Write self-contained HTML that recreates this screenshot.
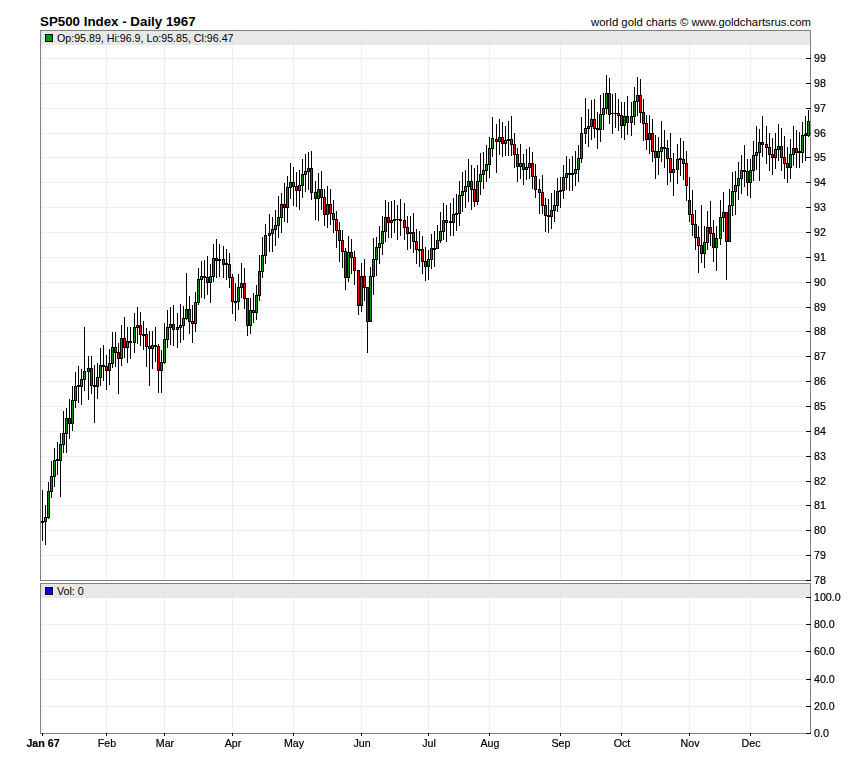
<!DOCTYPE html><html><head><meta charset="utf-8"><title>SP500 Index - Daily 1967</title><style>
html,body{margin:0;padding:0;background:#fff}
body{width:850px;height:769px;position:relative;overflow:hidden;font-family:"Liberation Sans",sans-serif;color:#000}
.t{position:absolute;white-space:nowrap;font-size:10.667px;line-height:12px}
.yl{left:814px;will-change:transform;-webkit-text-stroke:0.2px #000}
.xl{width:60px;text-align:center;top:737px;will-change:transform;-webkit-text-stroke:0.2px #000}
</style></head><body>
<svg width="850" height="769" viewBox="0 0 850 769" shape-rendering="crispEdges" style="position:absolute;left:0;top:0">
<rect x="41" y="31" width="769" height="14" fill="#e8e8e8"/>
<rect x="41" y="584" width="769" height="14" fill="#e8e8e8"/>
<rect x="41" y="555" width="764" height="1" fill="#e5f0f9"/>
<rect x="41" y="530" width="764" height="1" fill="#e5f0f9"/>
<rect x="41" y="505" width="764" height="1" fill="#e5f0f9"/>
<rect x="41" y="481" width="764" height="1" fill="#e5f0f9"/>
<rect x="41" y="456" width="764" height="1" fill="#e5f0f9"/>
<rect x="41" y="431" width="764" height="1" fill="#e5f0f9"/>
<rect x="41" y="406" width="764" height="1" fill="#e5f0f9"/>
<rect x="41" y="381" width="764" height="1" fill="#e5f0f9"/>
<rect x="41" y="356" width="764" height="1" fill="#e5f0f9"/>
<rect x="41" y="331" width="764" height="1" fill="#e5f0f9"/>
<rect x="41" y="307" width="764" height="1" fill="#e5f0f9"/>
<rect x="41" y="282" width="764" height="1" fill="#e5f0f9"/>
<rect x="41" y="257" width="764" height="1" fill="#e5f0f9"/>
<rect x="41" y="232" width="764" height="1" fill="#e5f0f9"/>
<rect x="41" y="207" width="764" height="1" fill="#e5f0f9"/>
<rect x="41" y="182" width="764" height="1" fill="#e5f0f9"/>
<rect x="41" y="157" width="764" height="1" fill="#e5f0f9"/>
<rect x="41" y="133" width="764" height="1" fill="#e5f0f9"/>
<rect x="41" y="108" width="764" height="1" fill="#e5f0f9"/>
<rect x="41" y="83" width="764" height="1" fill="#e5f0f9"/>
<rect x="41" y="58" width="764" height="1" fill="#e5f0f9"/>
<rect x="41" y="706" width="764" height="1" fill="#e5f0f9"/>
<rect x="41" y="679" width="764" height="1" fill="#e5f0f9"/>
<rect x="41" y="651" width="764" height="1" fill="#e5f0f9"/>
<rect x="41" y="624" width="764" height="1" fill="#e5f0f9"/>
<rect x="41" y="597" width="764" height="1" fill="#e5f0f9"/>
<rect x="42" y="31" width="1" height="549" fill="#e5f0f9"/>
<rect x="42" y="584" width="1" height="149" fill="#e5f0f9"/>
<rect x="106" y="31" width="1" height="549" fill="#e5f0f9"/>
<rect x="106" y="584" width="1" height="149" fill="#e5f0f9"/>
<rect x="164" y="31" width="1" height="549" fill="#e5f0f9"/>
<rect x="164" y="584" width="1" height="149" fill="#e5f0f9"/>
<rect x="232" y="31" width="1" height="549" fill="#e5f0f9"/>
<rect x="232" y="584" width="1" height="149" fill="#e5f0f9"/>
<rect x="293" y="31" width="1" height="549" fill="#e5f0f9"/>
<rect x="293" y="584" width="1" height="149" fill="#e5f0f9"/>
<rect x="361" y="31" width="1" height="549" fill="#e5f0f9"/>
<rect x="361" y="584" width="1" height="149" fill="#e5f0f9"/>
<rect x="428" y="31" width="1" height="549" fill="#e5f0f9"/>
<rect x="428" y="584" width="1" height="149" fill="#e5f0f9"/>
<rect x="489" y="31" width="1" height="549" fill="#e5f0f9"/>
<rect x="489" y="584" width="1" height="149" fill="#e5f0f9"/>
<rect x="560" y="31" width="1" height="549" fill="#e5f0f9"/>
<rect x="560" y="584" width="1" height="149" fill="#e5f0f9"/>
<rect x="621" y="31" width="1" height="549" fill="#e5f0f9"/>
<rect x="621" y="584" width="1" height="149" fill="#e5f0f9"/>
<rect x="689" y="31" width="1" height="549" fill="#e5f0f9"/>
<rect x="689" y="584" width="1" height="149" fill="#e5f0f9"/>
<rect x="750" y="31" width="1" height="549" fill="#e5f0f9"/>
<rect x="750" y="584" width="1" height="149" fill="#e5f0f9"/>
<rect x="42" y="31" width="1" height="14" fill="#e0e7ee"/>
<rect x="42" y="584" width="1" height="14" fill="#e0e7ee"/>
<rect x="106" y="31" width="1" height="14" fill="#e0e7ee"/>
<rect x="106" y="584" width="1" height="14" fill="#e0e7ee"/>
<rect x="164" y="31" width="1" height="14" fill="#e0e7ee"/>
<rect x="164" y="584" width="1" height="14" fill="#e0e7ee"/>
<rect x="232" y="31" width="1" height="14" fill="#e0e7ee"/>
<rect x="232" y="584" width="1" height="14" fill="#e0e7ee"/>
<rect x="293" y="31" width="1" height="14" fill="#e0e7ee"/>
<rect x="293" y="584" width="1" height="14" fill="#e0e7ee"/>
<rect x="361" y="31" width="1" height="14" fill="#e0e7ee"/>
<rect x="361" y="584" width="1" height="14" fill="#e0e7ee"/>
<rect x="428" y="31" width="1" height="14" fill="#e0e7ee"/>
<rect x="428" y="584" width="1" height="14" fill="#e0e7ee"/>
<rect x="489" y="31" width="1" height="14" fill="#e0e7ee"/>
<rect x="489" y="584" width="1" height="14" fill="#e0e7ee"/>
<rect x="560" y="31" width="1" height="14" fill="#e0e7ee"/>
<rect x="560" y="584" width="1" height="14" fill="#e0e7ee"/>
<rect x="621" y="31" width="1" height="14" fill="#e0e7ee"/>
<rect x="621" y="584" width="1" height="14" fill="#e0e7ee"/>
<rect x="689" y="31" width="1" height="14" fill="#e0e7ee"/>
<rect x="689" y="584" width="1" height="14" fill="#e0e7ee"/>
<rect x="750" y="31" width="1" height="14" fill="#e0e7ee"/>
<rect x="750" y="584" width="1" height="14" fill="#e0e7ee"/>
<rect x="41" y="597" width="764" height="1" fill="#e0e7ee"/>
<rect x="40" y="30" width="771" height="1" fill="#808080"/>
<rect x="40" y="580" width="771" height="1" fill="#808080"/>
<rect x="40" y="30" width="1" height="551" fill="#808080"/>
<rect x="810" y="30" width="1" height="551" fill="#808080"/>
<rect x="40" y="583" width="771" height="1" fill="#808080"/>
<rect x="40" y="733" width="771" height="1" fill="#808080"/>
<rect x="40" y="583" width="1" height="151" fill="#808080"/>
<rect x="810" y="583" width="1" height="151" fill="#808080"/>
<rect x="806" y="580" width="5" height="1" fill="#000"/>
<rect x="806" y="555" width="5" height="1" fill="#000"/>
<rect x="806" y="530" width="5" height="1" fill="#000"/>
<rect x="806" y="505" width="5" height="1" fill="#000"/>
<rect x="806" y="481" width="5" height="1" fill="#000"/>
<rect x="806" y="456" width="5" height="1" fill="#000"/>
<rect x="806" y="431" width="5" height="1" fill="#000"/>
<rect x="806" y="406" width="5" height="1" fill="#000"/>
<rect x="806" y="381" width="5" height="1" fill="#000"/>
<rect x="806" y="356" width="5" height="1" fill="#000"/>
<rect x="806" y="331" width="5" height="1" fill="#000"/>
<rect x="806" y="307" width="5" height="1" fill="#000"/>
<rect x="806" y="282" width="5" height="1" fill="#000"/>
<rect x="806" y="257" width="5" height="1" fill="#000"/>
<rect x="806" y="232" width="5" height="1" fill="#000"/>
<rect x="806" y="207" width="5" height="1" fill="#000"/>
<rect x="806" y="182" width="5" height="1" fill="#000"/>
<rect x="806" y="157" width="5" height="1" fill="#000"/>
<rect x="806" y="133" width="5" height="1" fill="#000"/>
<rect x="806" y="108" width="5" height="1" fill="#000"/>
<rect x="806" y="83" width="5" height="1" fill="#000"/>
<rect x="806" y="58" width="5" height="1" fill="#000"/>
<rect x="806" y="733" width="5" height="1" fill="#000"/>
<rect x="806" y="706" width="5" height="1" fill="#000"/>
<rect x="806" y="679" width="5" height="1" fill="#000"/>
<rect x="806" y="651" width="5" height="1" fill="#000"/>
<rect x="806" y="624" width="5" height="1" fill="#000"/>
<rect x="806" y="597" width="5" height="1" fill="#000"/>
<rect x="42" y="733" width="1" height="3" fill="#000"/>
<rect x="106" y="733" width="1" height="3" fill="#000"/>
<rect x="164" y="733" width="1" height="3" fill="#000"/>
<rect x="232" y="733" width="1" height="3" fill="#000"/>
<rect x="293" y="733" width="1" height="3" fill="#000"/>
<rect x="361" y="733" width="1" height="3" fill="#000"/>
<rect x="428" y="733" width="1" height="3" fill="#000"/>
<rect x="489" y="733" width="1" height="3" fill="#000"/>
<rect x="560" y="733" width="1" height="3" fill="#000"/>
<rect x="621" y="733" width="1" height="3" fill="#000"/>
<rect x="689" y="733" width="1" height="3" fill="#000"/>
<rect x="750" y="733" width="1" height="3" fill="#000"/>
<rect x="45" y="34" width="8" height="8" fill="#000"/><rect x="46" y="35" width="6" height="6" fill="#009900"/>
<rect x="45" y="587" width="8" height="8" fill="#000"/><rect x="46" y="588" width="6" height="6" fill="#0000ee"/>
<rect x="42" y="490" width="1" height="51" fill="#000"/>
<rect x="41" y="521" width="3" height="2" fill="#000"/>
<rect x="45" y="505" width="1" height="40" fill="#000"/>
<rect x="44" y="517" width="3" height="5" fill="#000"/>
<rect x="45" y="518" width="1" height="3" fill="#009900"/>
<rect x="48" y="482" width="1" height="37" fill="#000"/>
<rect x="47" y="491" width="3" height="27" fill="#000"/>
<rect x="48" y="492" width="1" height="25" fill="#009900"/>
<rect x="51" y="461" width="1" height="37" fill="#000"/>
<rect x="50" y="476" width="3" height="16" fill="#000"/>
<rect x="51" y="477" width="1" height="14" fill="#009900"/>
<rect x="54" y="448" width="1" height="39" fill="#000"/>
<rect x="53" y="460" width="3" height="17" fill="#000"/>
<rect x="54" y="461" width="1" height="15" fill="#009900"/>
<rect x="57" y="442" width="1" height="33" fill="#000"/>
<rect x="56" y="459" width="3" height="2" fill="#000"/>
<rect x="60" y="433" width="1" height="64" fill="#000"/>
<rect x="59" y="444" width="3" height="17" fill="#000"/>
<rect x="60" y="445" width="1" height="15" fill="#009900"/>
<rect x="63" y="411" width="1" height="42" fill="#000"/>
<rect x="62" y="433" width="3" height="12" fill="#000"/>
<rect x="63" y="434" width="1" height="10" fill="#009900"/>
<rect x="66" y="408" width="1" height="45" fill="#000"/>
<rect x="65" y="418" width="3" height="16" fill="#000"/>
<rect x="66" y="419" width="1" height="14" fill="#009900"/>
<rect x="69" y="399" width="1" height="40" fill="#000"/>
<rect x="68" y="418" width="3" height="6" fill="#000"/>
<rect x="69" y="419" width="1" height="4" fill="#ff0000"/>
<rect x="72" y="386" width="1" height="45" fill="#000"/>
<rect x="71" y="400" width="3" height="24" fill="#000"/>
<rect x="72" y="401" width="1" height="22" fill="#009900"/>
<rect x="75" y="372" width="1" height="36" fill="#000"/>
<rect x="74" y="386" width="3" height="15" fill="#000"/>
<rect x="75" y="387" width="1" height="13" fill="#009900"/>
<rect x="78" y="366" width="1" height="37" fill="#000"/>
<rect x="77" y="385" width="3" height="2" fill="#000"/>
<rect x="81" y="369" width="1" height="36" fill="#000"/>
<rect x="80" y="379" width="3" height="8" fill="#000"/>
<rect x="81" y="380" width="1" height="6" fill="#009900"/>
<rect x="84" y="327" width="1" height="64" fill="#000"/>
<rect x="83" y="371" width="3" height="9" fill="#000"/>
<rect x="84" y="372" width="1" height="7" fill="#009900"/>
<rect x="88" y="356" width="1" height="44" fill="#000"/>
<rect x="87" y="368" width="3" height="4" fill="#000"/>
<rect x="88" y="369" width="1" height="2" fill="#009900"/>
<rect x="91" y="356" width="1" height="38" fill="#000"/>
<rect x="90" y="368" width="3" height="18" fill="#000"/>
<rect x="91" y="369" width="1" height="16" fill="#ff0000"/>
<rect x="94" y="365" width="1" height="58" fill="#000"/>
<rect x="93" y="385" width="3" height="2" fill="#000"/>
<rect x="97" y="363" width="1" height="36" fill="#000"/>
<rect x="96" y="377" width="3" height="10" fill="#000"/>
<rect x="97" y="378" width="1" height="8" fill="#009900"/>
<rect x="100" y="348" width="1" height="38" fill="#000"/>
<rect x="99" y="365" width="3" height="13" fill="#000"/>
<rect x="100" y="366" width="1" height="11" fill="#009900"/>
<rect x="103" y="345" width="1" height="36" fill="#000"/>
<rect x="102" y="365" width="3" height="2" fill="#000"/>
<rect x="106" y="355" width="1" height="35" fill="#000"/>
<rect x="105" y="366" width="3" height="5" fill="#000"/>
<rect x="106" y="367" width="1" height="3" fill="#ff0000"/>
<rect x="109" y="349" width="1" height="36" fill="#000"/>
<rect x="108" y="363" width="3" height="8" fill="#000"/>
<rect x="109" y="364" width="1" height="6" fill="#009900"/>
<rect x="112" y="332" width="1" height="36" fill="#000"/>
<rect x="111" y="347" width="3" height="17" fill="#000"/>
<rect x="112" y="348" width="1" height="15" fill="#009900"/>
<rect x="115" y="332" width="1" height="35" fill="#000"/>
<rect x="114" y="347" width="3" height="6" fill="#000"/>
<rect x="115" y="348" width="1" height="4" fill="#ff0000"/>
<rect x="118" y="343" width="1" height="51" fill="#000"/>
<rect x="117" y="352" width="3" height="7" fill="#000"/>
<rect x="118" y="353" width="1" height="5" fill="#ff0000"/>
<rect x="121" y="325" width="1" height="41" fill="#000"/>
<rect x="120" y="338" width="3" height="21" fill="#000"/>
<rect x="121" y="339" width="1" height="19" fill="#009900"/>
<rect x="124" y="317" width="1" height="41" fill="#000"/>
<rect x="123" y="338" width="3" height="10" fill="#000"/>
<rect x="124" y="339" width="1" height="8" fill="#ff0000"/>
<rect x="127" y="327" width="1" height="36" fill="#000"/>
<rect x="126" y="341" width="3" height="7" fill="#000"/>
<rect x="127" y="342" width="1" height="5" fill="#009900"/>
<rect x="130" y="327" width="1" height="32" fill="#000"/>
<rect x="129" y="341" width="3" height="2" fill="#000"/>
<rect x="134" y="313" width="1" height="40" fill="#000"/>
<rect x="133" y="327" width="3" height="16" fill="#000"/>
<rect x="134" y="328" width="1" height="14" fill="#009900"/>
<rect x="137" y="307" width="1" height="37" fill="#000"/>
<rect x="136" y="325" width="3" height="3" fill="#000"/>
<rect x="137" y="326" width="1" height="1" fill="#009900"/>
<rect x="140" y="312" width="1" height="34" fill="#000"/>
<rect x="139" y="325" width="3" height="10" fill="#000"/>
<rect x="140" y="326" width="1" height="8" fill="#ff0000"/>
<rect x="143" y="321" width="1" height="29" fill="#000"/>
<rect x="142" y="334" width="3" height="2" fill="#000"/>
<rect x="146" y="328" width="1" height="39" fill="#000"/>
<rect x="145" y="334" width="3" height="13" fill="#000"/>
<rect x="146" y="335" width="1" height="11" fill="#ff0000"/>
<rect x="149" y="331" width="1" height="55" fill="#000"/>
<rect x="148" y="346" width="3" height="3" fill="#000"/>
<rect x="149" y="347" width="1" height="1" fill="#ff0000"/>
<rect x="152" y="331" width="1" height="38" fill="#000"/>
<rect x="151" y="345" width="3" height="4" fill="#000"/>
<rect x="152" y="346" width="1" height="2" fill="#009900"/>
<rect x="155" y="327" width="1" height="35" fill="#000"/>
<rect x="154" y="345" width="3" height="2" fill="#000"/>
<rect x="158" y="344" width="1" height="49" fill="#000"/>
<rect x="157" y="346" width="3" height="25" fill="#000"/>
<rect x="158" y="347" width="1" height="23" fill="#ff0000"/>
<rect x="161" y="350" width="1" height="43" fill="#000"/>
<rect x="160" y="362" width="3" height="9" fill="#000"/>
<rect x="161" y="363" width="1" height="7" fill="#009900"/>
<rect x="164" y="323" width="1" height="41" fill="#000"/>
<rect x="163" y="339" width="3" height="24" fill="#000"/>
<rect x="164" y="340" width="1" height="22" fill="#009900"/>
<rect x="167" y="310" width="1" height="38" fill="#000"/>
<rect x="166" y="327" width="3" height="13" fill="#000"/>
<rect x="167" y="328" width="1" height="11" fill="#009900"/>
<rect x="170" y="307" width="1" height="38" fill="#000"/>
<rect x="169" y="324" width="3" height="4" fill="#000"/>
<rect x="170" y="325" width="1" height="2" fill="#009900"/>
<rect x="173" y="305" width="1" height="41" fill="#000"/>
<rect x="172" y="324" width="3" height="6" fill="#000"/>
<rect x="173" y="325" width="1" height="4" fill="#ff0000"/>
<rect x="177" y="313" width="1" height="35" fill="#000"/>
<rect x="176" y="327" width="3" height="3" fill="#000"/>
<rect x="177" y="328" width="1" height="1" fill="#009900"/>
<rect x="180" y="304" width="1" height="39" fill="#000"/>
<rect x="179" y="325" width="3" height="3" fill="#000"/>
<rect x="180" y="326" width="1" height="1" fill="#009900"/>
<rect x="183" y="306" width="1" height="34" fill="#000"/>
<rect x="182" y="318" width="3" height="8" fill="#000"/>
<rect x="183" y="319" width="1" height="6" fill="#009900"/>
<rect x="186" y="273" width="1" height="47" fill="#000"/>
<rect x="185" y="309" width="3" height="10" fill="#000"/>
<rect x="186" y="310" width="1" height="8" fill="#009900"/>
<rect x="189" y="296" width="1" height="38" fill="#000"/>
<rect x="188" y="309" width="3" height="13" fill="#000"/>
<rect x="189" y="310" width="1" height="11" fill="#ff0000"/>
<rect x="192" y="305" width="1" height="38" fill="#000"/>
<rect x="191" y="321" width="3" height="3" fill="#000"/>
<rect x="192" y="322" width="1" height="1" fill="#ff0000"/>
<rect x="195" y="292" width="1" height="40" fill="#000"/>
<rect x="194" y="302" width="3" height="22" fill="#000"/>
<rect x="195" y="303" width="1" height="20" fill="#009900"/>
<rect x="198" y="268" width="1" height="37" fill="#000"/>
<rect x="197" y="279" width="3" height="24" fill="#000"/>
<rect x="198" y="280" width="1" height="22" fill="#009900"/>
<rect x="201" y="261" width="1" height="37" fill="#000"/>
<rect x="200" y="276" width="3" height="4" fill="#000"/>
<rect x="201" y="277" width="1" height="2" fill="#009900"/>
<rect x="204" y="260" width="1" height="39" fill="#000"/>
<rect x="203" y="276" width="3" height="2" fill="#000"/>
<rect x="207" y="256" width="1" height="39" fill="#000"/>
<rect x="206" y="277" width="3" height="6" fill="#000"/>
<rect x="207" y="278" width="1" height="4" fill="#ff0000"/>
<rect x="210" y="264" width="1" height="39" fill="#000"/>
<rect x="209" y="276" width="3" height="7" fill="#000"/>
<rect x="210" y="277" width="1" height="5" fill="#009900"/>
<rect x="213" y="244" width="1" height="38" fill="#000"/>
<rect x="212" y="258" width="3" height="19" fill="#000"/>
<rect x="213" y="259" width="1" height="17" fill="#009900"/>
<rect x="216" y="239" width="1" height="39" fill="#000"/>
<rect x="215" y="258" width="3" height="3" fill="#000"/>
<rect x="216" y="259" width="1" height="1" fill="#ff0000"/>
<rect x="219" y="244" width="1" height="33" fill="#000"/>
<rect x="218" y="259" width="3" height="2" fill="#000"/>
<rect x="223" y="246" width="1" height="32" fill="#000"/>
<rect x="222" y="259" width="3" height="6" fill="#000"/>
<rect x="223" y="260" width="1" height="4" fill="#ff0000"/>
<rect x="226" y="249" width="1" height="31" fill="#000"/>
<rect x="225" y="263" width="3" height="2" fill="#000"/>
<rect x="229" y="253" width="1" height="35" fill="#000"/>
<rect x="228" y="264" width="3" height="14" fill="#000"/>
<rect x="229" y="265" width="1" height="12" fill="#ff0000"/>
<rect x="232" y="274" width="1" height="40" fill="#000"/>
<rect x="231" y="277" width="3" height="25" fill="#000"/>
<rect x="232" y="278" width="1" height="23" fill="#ff0000"/>
<rect x="235" y="283" width="1" height="38" fill="#000"/>
<rect x="234" y="301" width="3" height="2" fill="#000"/>
<rect x="238" y="274" width="1" height="36" fill="#000"/>
<rect x="237" y="287" width="3" height="15" fill="#000"/>
<rect x="238" y="288" width="1" height="13" fill="#009900"/>
<rect x="241" y="263" width="1" height="35" fill="#000"/>
<rect x="240" y="283" width="3" height="5" fill="#000"/>
<rect x="241" y="284" width="1" height="3" fill="#009900"/>
<rect x="244" y="268" width="1" height="41" fill="#000"/>
<rect x="243" y="283" width="3" height="16" fill="#000"/>
<rect x="244" y="284" width="1" height="14" fill="#ff0000"/>
<rect x="247" y="298" width="1" height="38" fill="#000"/>
<rect x="246" y="298" width="3" height="28" fill="#000"/>
<rect x="247" y="299" width="1" height="26" fill="#ff0000"/>
<rect x="250" y="298" width="1" height="36" fill="#000"/>
<rect x="249" y="310" width="3" height="16" fill="#000"/>
<rect x="250" y="311" width="1" height="14" fill="#009900"/>
<rect x="253" y="293" width="1" height="30" fill="#000"/>
<rect x="252" y="310" width="3" height="3" fill="#000"/>
<rect x="253" y="311" width="1" height="1" fill="#ff0000"/>
<rect x="256" y="285" width="1" height="35" fill="#000"/>
<rect x="255" y="295" width="3" height="18" fill="#000"/>
<rect x="256" y="296" width="1" height="16" fill="#009900"/>
<rect x="259" y="255" width="1" height="46" fill="#000"/>
<rect x="258" y="271" width="3" height="25" fill="#000"/>
<rect x="259" y="272" width="1" height="23" fill="#009900"/>
<rect x="262" y="237" width="1" height="41" fill="#000"/>
<rect x="261" y="255" width="3" height="17" fill="#000"/>
<rect x="262" y="256" width="1" height="15" fill="#009900"/>
<rect x="265" y="224" width="1" height="40" fill="#000"/>
<rect x="264" y="235" width="3" height="21" fill="#000"/>
<rect x="265" y="236" width="1" height="19" fill="#009900"/>
<rect x="269" y="214" width="1" height="38" fill="#000"/>
<rect x="268" y="233" width="3" height="3" fill="#000"/>
<rect x="269" y="234" width="1" height="1" fill="#009900"/>
<rect x="272" y="217" width="1" height="35" fill="#000"/>
<rect x="271" y="229" width="3" height="5" fill="#000"/>
<rect x="272" y="230" width="1" height="3" fill="#009900"/>
<rect x="275" y="210" width="1" height="36" fill="#000"/>
<rect x="274" y="225" width="3" height="5" fill="#000"/>
<rect x="275" y="226" width="1" height="3" fill="#009900"/>
<rect x="278" y="196" width="1" height="42" fill="#000"/>
<rect x="277" y="217" width="3" height="9" fill="#000"/>
<rect x="278" y="218" width="1" height="7" fill="#009900"/>
<rect x="281" y="193" width="1" height="40" fill="#000"/>
<rect x="280" y="204" width="3" height="14" fill="#000"/>
<rect x="281" y="205" width="1" height="12" fill="#009900"/>
<rect x="284" y="183" width="1" height="39" fill="#000"/>
<rect x="283" y="204" width="3" height="4" fill="#000"/>
<rect x="284" y="205" width="1" height="2" fill="#ff0000"/>
<rect x="287" y="176" width="1" height="47" fill="#000"/>
<rect x="286" y="187" width="3" height="21" fill="#000"/>
<rect x="287" y="188" width="1" height="19" fill="#009900"/>
<rect x="290" y="163" width="1" height="36" fill="#000"/>
<rect x="289" y="182" width="3" height="6" fill="#000"/>
<rect x="290" y="183" width="1" height="4" fill="#009900"/>
<rect x="293" y="167" width="1" height="39" fill="#000"/>
<rect x="292" y="182" width="3" height="5" fill="#000"/>
<rect x="293" y="183" width="1" height="3" fill="#ff0000"/>
<rect x="296" y="172" width="1" height="35" fill="#000"/>
<rect x="295" y="186" width="3" height="5" fill="#000"/>
<rect x="296" y="187" width="1" height="3" fill="#ff0000"/>
<rect x="299" y="170" width="1" height="40" fill="#000"/>
<rect x="298" y="185" width="3" height="6" fill="#000"/>
<rect x="299" y="186" width="1" height="4" fill="#009900"/>
<rect x="302" y="159" width="1" height="39" fill="#000"/>
<rect x="301" y="174" width="3" height="12" fill="#000"/>
<rect x="302" y="175" width="1" height="10" fill="#009900"/>
<rect x="305" y="154" width="1" height="38" fill="#000"/>
<rect x="304" y="171" width="3" height="4" fill="#000"/>
<rect x="305" y="172" width="1" height="2" fill="#009900"/>
<rect x="308" y="152" width="1" height="38" fill="#000"/>
<rect x="307" y="168" width="3" height="4" fill="#000"/>
<rect x="308" y="169" width="1" height="2" fill="#009900"/>
<rect x="311" y="151" width="1" height="49" fill="#000"/>
<rect x="310" y="168" width="3" height="25" fill="#000"/>
<rect x="311" y="169" width="1" height="23" fill="#ff0000"/>
<rect x="315" y="181" width="1" height="39" fill="#000"/>
<rect x="314" y="192" width="3" height="7" fill="#000"/>
<rect x="315" y="193" width="1" height="5" fill="#ff0000"/>
<rect x="318" y="173" width="1" height="48" fill="#000"/>
<rect x="317" y="189" width="3" height="10" fill="#000"/>
<rect x="318" y="190" width="1" height="8" fill="#009900"/>
<rect x="321" y="171" width="1" height="39" fill="#000"/>
<rect x="320" y="189" width="3" height="9" fill="#000"/>
<rect x="321" y="190" width="1" height="7" fill="#ff0000"/>
<rect x="324" y="189" width="1" height="37" fill="#000"/>
<rect x="323" y="197" width="3" height="18" fill="#000"/>
<rect x="324" y="198" width="1" height="16" fill="#ff0000"/>
<rect x="327" y="186" width="1" height="42" fill="#000"/>
<rect x="326" y="204" width="3" height="11" fill="#000"/>
<rect x="327" y="205" width="1" height="9" fill="#009900"/>
<rect x="330" y="189" width="1" height="36" fill="#000"/>
<rect x="329" y="204" width="3" height="10" fill="#000"/>
<rect x="330" y="205" width="1" height="8" fill="#ff0000"/>
<rect x="333" y="200" width="1" height="33" fill="#000"/>
<rect x="332" y="213" width="3" height="7" fill="#000"/>
<rect x="333" y="214" width="1" height="5" fill="#ff0000"/>
<rect x="336" y="211" width="1" height="37" fill="#000"/>
<rect x="335" y="219" width="3" height="12" fill="#000"/>
<rect x="336" y="220" width="1" height="10" fill="#ff0000"/>
<rect x="339" y="222" width="1" height="40" fill="#000"/>
<rect x="338" y="230" width="3" height="11" fill="#000"/>
<rect x="339" y="231" width="1" height="9" fill="#ff0000"/>
<rect x="342" y="230" width="1" height="38" fill="#000"/>
<rect x="341" y="240" width="3" height="12" fill="#000"/>
<rect x="342" y="241" width="1" height="10" fill="#ff0000"/>
<rect x="345" y="248" width="1" height="42" fill="#000"/>
<rect x="344" y="251" width="3" height="27" fill="#000"/>
<rect x="345" y="252" width="1" height="25" fill="#ff0000"/>
<rect x="348" y="236" width="1" height="46" fill="#000"/>
<rect x="347" y="252" width="3" height="26" fill="#000"/>
<rect x="348" y="253" width="1" height="24" fill="#009900"/>
<rect x="351" y="239" width="1" height="35" fill="#000"/>
<rect x="350" y="252" width="3" height="6" fill="#000"/>
<rect x="351" y="253" width="1" height="4" fill="#ff0000"/>
<rect x="354" y="251" width="1" height="34" fill="#000"/>
<rect x="353" y="257" width="3" height="14" fill="#000"/>
<rect x="354" y="258" width="1" height="12" fill="#ff0000"/>
<rect x="358" y="270" width="1" height="45" fill="#000"/>
<rect x="357" y="270" width="3" height="36" fill="#000"/>
<rect x="358" y="271" width="1" height="34" fill="#ff0000"/>
<rect x="361" y="263" width="1" height="49" fill="#000"/>
<rect x="360" y="276" width="3" height="30" fill="#000"/>
<rect x="361" y="277" width="1" height="28" fill="#009900"/>
<rect x="364" y="259" width="1" height="42" fill="#000"/>
<rect x="363" y="276" width="3" height="12" fill="#000"/>
<rect x="364" y="277" width="1" height="10" fill="#ff0000"/>
<rect x="367" y="287" width="1" height="66" fill="#000"/>
<rect x="366" y="287" width="3" height="35" fill="#000"/>
<rect x="367" y="288" width="1" height="33" fill="#ff0000"/>
<rect x="370" y="267" width="1" height="55" fill="#000"/>
<rect x="369" y="276" width="3" height="46" fill="#000"/>
<rect x="370" y="277" width="1" height="44" fill="#009900"/>
<rect x="373" y="238" width="1" height="57" fill="#000"/>
<rect x="372" y="259" width="3" height="18" fill="#000"/>
<rect x="373" y="260" width="1" height="16" fill="#009900"/>
<rect x="376" y="237" width="1" height="39" fill="#000"/>
<rect x="375" y="247" width="3" height="13" fill="#000"/>
<rect x="376" y="248" width="1" height="11" fill="#009900"/>
<rect x="379" y="226" width="1" height="38" fill="#000"/>
<rect x="378" y="243" width="3" height="5" fill="#000"/>
<rect x="379" y="244" width="1" height="3" fill="#009900"/>
<rect x="382" y="216" width="1" height="39" fill="#000"/>
<rect x="381" y="231" width="3" height="13" fill="#000"/>
<rect x="382" y="232" width="1" height="11" fill="#009900"/>
<rect x="385" y="200" width="1" height="42" fill="#000"/>
<rect x="384" y="217" width="3" height="15" fill="#000"/>
<rect x="385" y="218" width="1" height="13" fill="#009900"/>
<rect x="388" y="202" width="1" height="36" fill="#000"/>
<rect x="387" y="217" width="3" height="6" fill="#000"/>
<rect x="388" y="218" width="1" height="4" fill="#ff0000"/>
<rect x="391" y="201" width="1" height="37" fill="#000"/>
<rect x="390" y="220" width="3" height="3" fill="#000"/>
<rect x="391" y="221" width="1" height="1" fill="#009900"/>
<rect x="394" y="200" width="1" height="33" fill="#000"/>
<rect x="393" y="219" width="3" height="2" fill="#000"/>
<rect x="397" y="205" width="1" height="35" fill="#000"/>
<rect x="396" y="219" width="3" height="1" fill="#000"/>
<rect x="400" y="199" width="1" height="37" fill="#000"/>
<rect x="399" y="219" width="3" height="2" fill="#000"/>
<rect x="404" y="203" width="1" height="37" fill="#000"/>
<rect x="403" y="220" width="3" height="8" fill="#000"/>
<rect x="404" y="221" width="1" height="6" fill="#ff0000"/>
<rect x="407" y="216" width="1" height="34" fill="#000"/>
<rect x="406" y="227" width="3" height="7" fill="#000"/>
<rect x="407" y="228" width="1" height="5" fill="#ff0000"/>
<rect x="410" y="216" width="1" height="33" fill="#000"/>
<rect x="409" y="232" width="3" height="2" fill="#000"/>
<rect x="413" y="213" width="1" height="40" fill="#000"/>
<rect x="412" y="232" width="3" height="10" fill="#000"/>
<rect x="413" y="233" width="1" height="8" fill="#ff0000"/>
<rect x="416" y="229" width="1" height="35" fill="#000"/>
<rect x="415" y="241" width="3" height="9" fill="#000"/>
<rect x="416" y="242" width="1" height="7" fill="#ff0000"/>
<rect x="419" y="231" width="1" height="36" fill="#000"/>
<rect x="418" y="249" width="3" height="2" fill="#000"/>
<rect x="422" y="236" width="1" height="38" fill="#000"/>
<rect x="421" y="249" width="3" height="13" fill="#000"/>
<rect x="422" y="250" width="1" height="11" fill="#ff0000"/>
<rect x="425" y="247" width="1" height="34" fill="#000"/>
<rect x="424" y="261" width="3" height="6" fill="#000"/>
<rect x="425" y="262" width="1" height="4" fill="#ff0000"/>
<rect x="428" y="250" width="1" height="30" fill="#000"/>
<rect x="427" y="259" width="3" height="8" fill="#000"/>
<rect x="428" y="260" width="1" height="6" fill="#009900"/>
<rect x="431" y="234" width="1" height="35" fill="#000"/>
<rect x="430" y="248" width="3" height="12" fill="#000"/>
<rect x="431" y="249" width="1" height="10" fill="#009900"/>
<rect x="434" y="231" width="1" height="36" fill="#000"/>
<rect x="433" y="248" width="3" height="2" fill="#000"/>
<rect x="437" y="225" width="1" height="24" fill="#000"/>
<rect x="436" y="240" width="3" height="9" fill="#000"/>
<rect x="437" y="241" width="1" height="7" fill="#009900"/>
<rect x="440" y="212" width="1" height="31" fill="#000"/>
<rect x="439" y="231" width="3" height="10" fill="#000"/>
<rect x="440" y="232" width="1" height="8" fill="#009900"/>
<rect x="443" y="203" width="1" height="37" fill="#000"/>
<rect x="442" y="220" width="3" height="12" fill="#000"/>
<rect x="443" y="221" width="1" height="10" fill="#009900"/>
<rect x="446" y="205" width="1" height="37" fill="#000"/>
<rect x="445" y="220" width="3" height="3" fill="#000"/>
<rect x="446" y="221" width="1" height="1" fill="#ff0000"/>
<rect x="450" y="203" width="1" height="33" fill="#000"/>
<rect x="449" y="221" width="3" height="2" fill="#000"/>
<rect x="453" y="198" width="1" height="38" fill="#000"/>
<rect x="452" y="214" width="3" height="9" fill="#000"/>
<rect x="453" y="215" width="1" height="7" fill="#009900"/>
<rect x="456" y="194" width="1" height="37" fill="#000"/>
<rect x="455" y="213" width="3" height="2" fill="#000"/>
<rect x="459" y="181" width="1" height="45" fill="#000"/>
<rect x="458" y="195" width="3" height="19" fill="#000"/>
<rect x="459" y="196" width="1" height="17" fill="#009900"/>
<rect x="462" y="172" width="1" height="40" fill="#000"/>
<rect x="461" y="191" width="3" height="5" fill="#000"/>
<rect x="462" y="192" width="1" height="3" fill="#009900"/>
<rect x="465" y="170" width="1" height="38" fill="#000"/>
<rect x="464" y="186" width="3" height="6" fill="#000"/>
<rect x="465" y="187" width="1" height="4" fill="#009900"/>
<rect x="468" y="159" width="1" height="43" fill="#000"/>
<rect x="467" y="181" width="3" height="6" fill="#000"/>
<rect x="468" y="182" width="1" height="4" fill="#009900"/>
<rect x="471" y="165" width="1" height="45" fill="#000"/>
<rect x="470" y="181" width="3" height="9" fill="#000"/>
<rect x="471" y="182" width="1" height="7" fill="#ff0000"/>
<rect x="474" y="168" width="1" height="39" fill="#000"/>
<rect x="473" y="189" width="3" height="13" fill="#000"/>
<rect x="474" y="190" width="1" height="11" fill="#ff0000"/>
<rect x="477" y="165" width="1" height="40" fill="#000"/>
<rect x="476" y="181" width="3" height="21" fill="#000"/>
<rect x="477" y="182" width="1" height="19" fill="#009900"/>
<rect x="480" y="153" width="1" height="42" fill="#000"/>
<rect x="479" y="174" width="3" height="8" fill="#000"/>
<rect x="480" y="175" width="1" height="6" fill="#009900"/>
<rect x="483" y="152" width="1" height="37" fill="#000"/>
<rect x="482" y="170" width="3" height="5" fill="#000"/>
<rect x="483" y="171" width="1" height="3" fill="#009900"/>
<rect x="486" y="145" width="1" height="37" fill="#000"/>
<rect x="485" y="164" width="3" height="7" fill="#000"/>
<rect x="486" y="165" width="1" height="5" fill="#009900"/>
<rect x="489" y="137" width="1" height="41" fill="#000"/>
<rect x="488" y="148" width="3" height="17" fill="#000"/>
<rect x="489" y="149" width="1" height="15" fill="#009900"/>
<rect x="492" y="117" width="1" height="40" fill="#000"/>
<rect x="491" y="138" width="3" height="11" fill="#000"/>
<rect x="492" y="139" width="1" height="9" fill="#009900"/>
<rect x="496" y="124" width="1" height="49" fill="#000"/>
<rect x="495" y="139" width="3" height="3" fill="#000"/>
<rect x="496" y="140" width="1" height="1" fill="#ff0000"/>
<rect x="499" y="119" width="1" height="36" fill="#000"/>
<rect x="498" y="137" width="3" height="5" fill="#000"/>
<rect x="499" y="138" width="1" height="3" fill="#009900"/>
<rect x="502" y="122" width="1" height="35" fill="#000"/>
<rect x="501" y="137" width="3" height="7" fill="#000"/>
<rect x="502" y="138" width="1" height="5" fill="#ff0000"/>
<rect x="505" y="126" width="1" height="30" fill="#000"/>
<rect x="504" y="140" width="3" height="4" fill="#000"/>
<rect x="505" y="141" width="1" height="2" fill="#009900"/>
<rect x="508" y="121" width="1" height="35" fill="#000"/>
<rect x="507" y="139" width="3" height="2" fill="#000"/>
<rect x="511" y="116" width="1" height="40" fill="#000"/>
<rect x="510" y="139" width="3" height="6" fill="#000"/>
<rect x="511" y="140" width="1" height="4" fill="#ff0000"/>
<rect x="514" y="133" width="1" height="35" fill="#000"/>
<rect x="513" y="144" width="3" height="11" fill="#000"/>
<rect x="514" y="145" width="1" height="9" fill="#ff0000"/>
<rect x="517" y="148" width="1" height="34" fill="#000"/>
<rect x="516" y="154" width="3" height="13" fill="#000"/>
<rect x="517" y="155" width="1" height="11" fill="#ff0000"/>
<rect x="520" y="144" width="1" height="35" fill="#000"/>
<rect x="519" y="163" width="3" height="4" fill="#000"/>
<rect x="520" y="164" width="1" height="2" fill="#009900"/>
<rect x="523" y="154" width="1" height="31" fill="#000"/>
<rect x="522" y="163" width="3" height="7" fill="#000"/>
<rect x="523" y="164" width="1" height="5" fill="#ff0000"/>
<rect x="526" y="149" width="1" height="31" fill="#000"/>
<rect x="525" y="167" width="3" height="3" fill="#000"/>
<rect x="526" y="168" width="1" height="1" fill="#009900"/>
<rect x="529" y="147" width="1" height="32" fill="#000"/>
<rect x="528" y="163" width="3" height="5" fill="#000"/>
<rect x="529" y="164" width="1" height="3" fill="#009900"/>
<rect x="532" y="152" width="1" height="37" fill="#000"/>
<rect x="531" y="163" width="3" height="14" fill="#000"/>
<rect x="532" y="164" width="1" height="12" fill="#ff0000"/>
<rect x="535" y="164" width="1" height="34" fill="#000"/>
<rect x="534" y="176" width="3" height="14" fill="#000"/>
<rect x="535" y="177" width="1" height="12" fill="#ff0000"/>
<rect x="539" y="179" width="1" height="35" fill="#000"/>
<rect x="538" y="189" width="3" height="4" fill="#000"/>
<rect x="539" y="190" width="1" height="2" fill="#ff0000"/>
<rect x="542" y="175" width="1" height="39" fill="#000"/>
<rect x="541" y="192" width="3" height="14" fill="#000"/>
<rect x="542" y="193" width="1" height="12" fill="#ff0000"/>
<rect x="545" y="198" width="1" height="34" fill="#000"/>
<rect x="544" y="205" width="3" height="11" fill="#000"/>
<rect x="545" y="206" width="1" height="9" fill="#ff0000"/>
<rect x="548" y="199" width="1" height="34" fill="#000"/>
<rect x="547" y="215" width="3" height="2" fill="#000"/>
<rect x="551" y="193" width="1" height="36" fill="#000"/>
<rect x="550" y="210" width="3" height="7" fill="#000"/>
<rect x="551" y="211" width="1" height="5" fill="#009900"/>
<rect x="554" y="190" width="1" height="32" fill="#000"/>
<rect x="553" y="205" width="3" height="6" fill="#000"/>
<rect x="554" y="206" width="1" height="4" fill="#009900"/>
<rect x="557" y="178" width="1" height="34" fill="#000"/>
<rect x="556" y="191" width="3" height="15" fill="#000"/>
<rect x="557" y="192" width="1" height="13" fill="#009900"/>
<rect x="560" y="177" width="1" height="31" fill="#000"/>
<rect x="559" y="190" width="3" height="2" fill="#000"/>
<rect x="563" y="165" width="1" height="34" fill="#000"/>
<rect x="562" y="177" width="3" height="14" fill="#000"/>
<rect x="563" y="178" width="1" height="12" fill="#009900"/>
<rect x="566" y="156" width="1" height="34" fill="#000"/>
<rect x="565" y="173" width="3" height="5" fill="#000"/>
<rect x="566" y="174" width="1" height="3" fill="#009900"/>
<rect x="569" y="159" width="1" height="32" fill="#000"/>
<rect x="568" y="173" width="3" height="2" fill="#000"/>
<rect x="572" y="156" width="1" height="35" fill="#000"/>
<rect x="571" y="173" width="3" height="2" fill="#000"/>
<rect x="575" y="151" width="1" height="35" fill="#000"/>
<rect x="574" y="169" width="3" height="5" fill="#000"/>
<rect x="575" y="170" width="1" height="3" fill="#009900"/>
<rect x="578" y="145" width="1" height="37" fill="#000"/>
<rect x="577" y="158" width="3" height="12" fill="#000"/>
<rect x="578" y="159" width="1" height="10" fill="#009900"/>
<rect x="581" y="117" width="1" height="46" fill="#000"/>
<rect x="580" y="133" width="3" height="26" fill="#000"/>
<rect x="581" y="134" width="1" height="24" fill="#009900"/>
<rect x="585" y="98" width="1" height="46" fill="#000"/>
<rect x="584" y="128" width="3" height="6" fill="#000"/>
<rect x="585" y="129" width="1" height="4" fill="#009900"/>
<rect x="588" y="109" width="1" height="38" fill="#000"/>
<rect x="587" y="126" width="3" height="3" fill="#000"/>
<rect x="588" y="127" width="1" height="1" fill="#009900"/>
<rect x="591" y="100" width="1" height="40" fill="#000"/>
<rect x="590" y="119" width="3" height="8" fill="#000"/>
<rect x="591" y="120" width="1" height="6" fill="#009900"/>
<rect x="594" y="99" width="1" height="39" fill="#000"/>
<rect x="593" y="119" width="3" height="10" fill="#000"/>
<rect x="594" y="120" width="1" height="8" fill="#ff0000"/>
<rect x="597" y="112" width="1" height="37" fill="#000"/>
<rect x="596" y="128" width="3" height="2" fill="#000"/>
<rect x="600" y="95" width="1" height="47" fill="#000"/>
<rect x="599" y="114" width="3" height="16" fill="#000"/>
<rect x="600" y="115" width="1" height="14" fill="#009900"/>
<rect x="603" y="93" width="1" height="37" fill="#000"/>
<rect x="602" y="108" width="3" height="7" fill="#000"/>
<rect x="603" y="109" width="1" height="5" fill="#009900"/>
<rect x="606" y="75" width="1" height="39" fill="#000"/>
<rect x="605" y="93" width="3" height="16" fill="#000"/>
<rect x="606" y="94" width="1" height="14" fill="#009900"/>
<rect x="609" y="78" width="1" height="46" fill="#000"/>
<rect x="608" y="93" width="3" height="22" fill="#000"/>
<rect x="609" y="94" width="1" height="20" fill="#ff0000"/>
<rect x="612" y="94" width="1" height="40" fill="#000"/>
<rect x="611" y="113" width="3" height="1" fill="#000"/>
<rect x="615" y="93" width="1" height="35" fill="#000"/>
<rect x="614" y="113" width="3" height="1" fill="#000"/>
<rect x="618" y="99" width="1" height="32" fill="#000"/>
<rect x="617" y="113" width="3" height="3" fill="#000"/>
<rect x="618" y="114" width="1" height="1" fill="#ff0000"/>
<rect x="621" y="102" width="1" height="36" fill="#000"/>
<rect x="620" y="115" width="3" height="11" fill="#000"/>
<rect x="621" y="116" width="1" height="9" fill="#ff0000"/>
<rect x="624" y="102" width="1" height="38" fill="#000"/>
<rect x="623" y="116" width="3" height="10" fill="#000"/>
<rect x="624" y="117" width="1" height="8" fill="#009900"/>
<rect x="627" y="96" width="1" height="39" fill="#000"/>
<rect x="626" y="116" width="3" height="7" fill="#000"/>
<rect x="627" y="117" width="1" height="5" fill="#ff0000"/>
<rect x="631" y="102" width="1" height="34" fill="#000"/>
<rect x="630" y="116" width="3" height="7" fill="#000"/>
<rect x="631" y="117" width="1" height="5" fill="#009900"/>
<rect x="634" y="87" width="1" height="38" fill="#000"/>
<rect x="633" y="101" width="3" height="16" fill="#000"/>
<rect x="634" y="102" width="1" height="14" fill="#009900"/>
<rect x="637" y="77" width="1" height="39" fill="#000"/>
<rect x="636" y="95" width="3" height="7" fill="#000"/>
<rect x="637" y="96" width="1" height="5" fill="#009900"/>
<rect x="640" y="79" width="1" height="44" fill="#000"/>
<rect x="639" y="95" width="3" height="18" fill="#000"/>
<rect x="640" y="96" width="1" height="16" fill="#ff0000"/>
<rect x="643" y="99" width="1" height="42" fill="#000"/>
<rect x="642" y="112" width="3" height="12" fill="#000"/>
<rect x="643" y="113" width="1" height="10" fill="#ff0000"/>
<rect x="646" y="115" width="1" height="35" fill="#000"/>
<rect x="645" y="123" width="3" height="17" fill="#000"/>
<rect x="646" y="124" width="1" height="15" fill="#ff0000"/>
<rect x="649" y="115" width="1" height="39" fill="#000"/>
<rect x="648" y="133" width="3" height="7" fill="#000"/>
<rect x="649" y="134" width="1" height="5" fill="#009900"/>
<rect x="652" y="119" width="1" height="43" fill="#000"/>
<rect x="651" y="133" width="3" height="19" fill="#000"/>
<rect x="652" y="134" width="1" height="17" fill="#ff0000"/>
<rect x="655" y="135" width="1" height="44" fill="#000"/>
<rect x="654" y="151" width="3" height="7" fill="#000"/>
<rect x="655" y="152" width="1" height="5" fill="#ff0000"/>
<rect x="658" y="137" width="1" height="38" fill="#000"/>
<rect x="657" y="151" width="3" height="7" fill="#000"/>
<rect x="658" y="152" width="1" height="5" fill="#009900"/>
<rect x="661" y="121" width="1" height="41" fill="#000"/>
<rect x="660" y="147" width="3" height="5" fill="#000"/>
<rect x="661" y="148" width="1" height="3" fill="#009900"/>
<rect x="664" y="130" width="1" height="38" fill="#000"/>
<rect x="663" y="147" width="3" height="2" fill="#000"/>
<rect x="667" y="140" width="1" height="45" fill="#000"/>
<rect x="666" y="148" width="3" height="11" fill="#000"/>
<rect x="667" y="149" width="1" height="9" fill="#ff0000"/>
<rect x="670" y="133" width="1" height="49" fill="#000"/>
<rect x="669" y="158" width="3" height="15" fill="#000"/>
<rect x="670" y="159" width="1" height="13" fill="#ff0000"/>
<rect x="673" y="153" width="1" height="43" fill="#000"/>
<rect x="672" y="169" width="3" height="4" fill="#000"/>
<rect x="673" y="170" width="1" height="2" fill="#009900"/>
<rect x="677" y="144" width="1" height="40" fill="#000"/>
<rect x="676" y="159" width="3" height="11" fill="#000"/>
<rect x="677" y="160" width="1" height="9" fill="#009900"/>
<rect x="680" y="138" width="1" height="38" fill="#000"/>
<rect x="679" y="158" width="3" height="2" fill="#000"/>
<rect x="683" y="141" width="1" height="39" fill="#000"/>
<rect x="682" y="159" width="3" height="5" fill="#000"/>
<rect x="683" y="160" width="1" height="3" fill="#ff0000"/>
<rect x="686" y="151" width="1" height="50" fill="#000"/>
<rect x="685" y="163" width="3" height="23" fill="#000"/>
<rect x="686" y="164" width="1" height="21" fill="#ff0000"/>
<rect x="689" y="177" width="1" height="45" fill="#000"/>
<rect x="688" y="200" width="3" height="15" fill="#000"/>
<rect x="689" y="201" width="1" height="13" fill="#ff0000"/>
<rect x="692" y="190" width="1" height="46" fill="#000"/>
<rect x="691" y="214" width="3" height="11" fill="#000"/>
<rect x="692" y="215" width="1" height="9" fill="#ff0000"/>
<rect x="695" y="210" width="1" height="40" fill="#000"/>
<rect x="694" y="224" width="3" height="14" fill="#000"/>
<rect x="695" y="225" width="1" height="12" fill="#ff0000"/>
<rect x="698" y="226" width="1" height="47" fill="#000"/>
<rect x="697" y="237" width="3" height="9" fill="#000"/>
<rect x="698" y="238" width="1" height="7" fill="#ff0000"/>
<rect x="701" y="205" width="1" height="58" fill="#000"/>
<rect x="700" y="245" width="3" height="9" fill="#000"/>
<rect x="701" y="246" width="1" height="7" fill="#ff0000"/>
<rect x="704" y="226" width="1" height="42" fill="#000"/>
<rect x="703" y="242" width="3" height="12" fill="#000"/>
<rect x="704" y="243" width="1" height="10" fill="#009900"/>
<rect x="707" y="211" width="1" height="39" fill="#000"/>
<rect x="706" y="227" width="3" height="16" fill="#000"/>
<rect x="707" y="228" width="1" height="14" fill="#009900"/>
<rect x="710" y="201" width="1" height="45" fill="#000"/>
<rect x="709" y="227" width="3" height="7" fill="#000"/>
<rect x="710" y="228" width="1" height="5" fill="#ff0000"/>
<rect x="713" y="220" width="1" height="42" fill="#000"/>
<rect x="712" y="233" width="3" height="15" fill="#000"/>
<rect x="713" y="234" width="1" height="13" fill="#ff0000"/>
<rect x="716" y="226" width="1" height="45" fill="#000"/>
<rect x="715" y="238" width="3" height="10" fill="#000"/>
<rect x="716" y="239" width="1" height="8" fill="#009900"/>
<rect x="720" y="200" width="1" height="45" fill="#000"/>
<rect x="719" y="217" width="3" height="22" fill="#000"/>
<rect x="720" y="218" width="1" height="20" fill="#009900"/>
<rect x="723" y="192" width="1" height="40" fill="#000"/>
<rect x="722" y="212" width="3" height="6" fill="#000"/>
<rect x="723" y="213" width="1" height="4" fill="#009900"/>
<rect x="726" y="212" width="1" height="68" fill="#000"/>
<rect x="725" y="212" width="3" height="30" fill="#000"/>
<rect x="726" y="213" width="1" height="28" fill="#ff0000"/>
<rect x="729" y="189" width="1" height="53" fill="#000"/>
<rect x="728" y="205" width="3" height="37" fill="#000"/>
<rect x="729" y="206" width="1" height="35" fill="#009900"/>
<rect x="732" y="172" width="1" height="44" fill="#000"/>
<rect x="731" y="191" width="3" height="15" fill="#000"/>
<rect x="732" y="192" width="1" height="13" fill="#009900"/>
<rect x="735" y="171" width="1" height="44" fill="#000"/>
<rect x="734" y="185" width="3" height="7" fill="#000"/>
<rect x="735" y="186" width="1" height="5" fill="#009900"/>
<rect x="738" y="162" width="1" height="38" fill="#000"/>
<rect x="737" y="178" width="3" height="8" fill="#000"/>
<rect x="738" y="179" width="1" height="6" fill="#009900"/>
<rect x="741" y="155" width="1" height="39" fill="#000"/>
<rect x="740" y="170" width="3" height="9" fill="#000"/>
<rect x="741" y="171" width="1" height="7" fill="#009900"/>
<rect x="744" y="145" width="1" height="42" fill="#000"/>
<rect x="743" y="170" width="3" height="2" fill="#000"/>
<rect x="747" y="159" width="1" height="37" fill="#000"/>
<rect x="746" y="171" width="3" height="12" fill="#000"/>
<rect x="747" y="172" width="1" height="10" fill="#ff0000"/>
<rect x="750" y="159" width="1" height="39" fill="#000"/>
<rect x="749" y="170" width="3" height="13" fill="#000"/>
<rect x="750" y="171" width="1" height="11" fill="#009900"/>
<rect x="753" y="141" width="1" height="40" fill="#000"/>
<rect x="752" y="155" width="3" height="16" fill="#000"/>
<rect x="753" y="156" width="1" height="14" fill="#009900"/>
<rect x="756" y="126" width="1" height="44" fill="#000"/>
<rect x="755" y="152" width="3" height="4" fill="#000"/>
<rect x="756" y="153" width="1" height="2" fill="#009900"/>
<rect x="759" y="129" width="1" height="52" fill="#000"/>
<rect x="758" y="142" width="3" height="11" fill="#000"/>
<rect x="759" y="143" width="1" height="9" fill="#009900"/>
<rect x="762" y="116" width="1" height="41" fill="#000"/>
<rect x="761" y="142" width="3" height="3" fill="#000"/>
<rect x="762" y="143" width="1" height="1" fill="#ff0000"/>
<rect x="766" y="126" width="1" height="38" fill="#000"/>
<rect x="765" y="144" width="3" height="4" fill="#000"/>
<rect x="766" y="145" width="1" height="2" fill="#ff0000"/>
<rect x="769" y="133" width="1" height="38" fill="#000"/>
<rect x="768" y="147" width="3" height="8" fill="#000"/>
<rect x="769" y="148" width="1" height="6" fill="#ff0000"/>
<rect x="772" y="138" width="1" height="37" fill="#000"/>
<rect x="771" y="154" width="3" height="4" fill="#000"/>
<rect x="772" y="155" width="1" height="2" fill="#ff0000"/>
<rect x="775" y="133" width="1" height="36" fill="#000"/>
<rect x="774" y="149" width="3" height="9" fill="#000"/>
<rect x="775" y="150" width="1" height="7" fill="#009900"/>
<rect x="778" y="124" width="1" height="37" fill="#000"/>
<rect x="777" y="146" width="3" height="4" fill="#000"/>
<rect x="778" y="147" width="1" height="2" fill="#009900"/>
<rect x="781" y="128" width="1" height="43" fill="#000"/>
<rect x="780" y="146" width="3" height="12" fill="#000"/>
<rect x="781" y="147" width="1" height="10" fill="#ff0000"/>
<rect x="784" y="136" width="1" height="43" fill="#000"/>
<rect x="783" y="157" width="3" height="7" fill="#000"/>
<rect x="784" y="158" width="1" height="5" fill="#ff0000"/>
<rect x="787" y="147" width="1" height="36" fill="#000"/>
<rect x="786" y="163" width="3" height="5" fill="#000"/>
<rect x="787" y="164" width="1" height="3" fill="#ff0000"/>
<rect x="790" y="139" width="1" height="40" fill="#000"/>
<rect x="789" y="154" width="3" height="14" fill="#000"/>
<rect x="790" y="155" width="1" height="12" fill="#009900"/>
<rect x="793" y="126" width="1" height="40" fill="#000"/>
<rect x="792" y="148" width="3" height="7" fill="#000"/>
<rect x="793" y="149" width="1" height="5" fill="#009900"/>
<rect x="796" y="130" width="1" height="38" fill="#000"/>
<rect x="795" y="148" width="3" height="5" fill="#000"/>
<rect x="796" y="149" width="1" height="3" fill="#ff0000"/>
<rect x="799" y="132" width="1" height="36" fill="#000"/>
<rect x="798" y="151" width="3" height="2" fill="#000"/>
<rect x="802" y="122" width="1" height="41" fill="#000"/>
<rect x="801" y="135" width="3" height="18" fill="#000"/>
<rect x="802" y="136" width="1" height="16" fill="#009900"/>
<rect x="805" y="116" width="1" height="45" fill="#000"/>
<rect x="804" y="134" width="3" height="2" fill="#000"/>
<rect x="808" y="110" width="1" height="27" fill="#000"/>
<rect x="807" y="121" width="3" height="15" fill="#000"/>
<rect x="808" y="122" width="1" height="13" fill="#009900"/>
</svg>
<div class="t" style="left:40px;top:13.6px;font-size:13.333px;line-height:16px;font-weight:bold">SP500 Index - Daily 1967</div>
<div class="t" style="right:39px;top:16px;font-size:11.333px">world gold charts © www.goldchartsrus.com</div>
<div class="t" style="left:57px;top:32px">Op:95.89, Hi:96.9, Lo:95.85, Cl:96.47</div>
<div class="t" style="left:57px;top:585px">Vol: 0</div>
<div class="t yl" style="top:574px">78</div>
<div class="t yl" style="top:549px">79</div>
<div class="t yl" style="top:524px">80</div>
<div class="t yl" style="top:499px">81</div>
<div class="t yl" style="top:475px">82</div>
<div class="t yl" style="top:450px">83</div>
<div class="t yl" style="top:425px">84</div>
<div class="t yl" style="top:400px">85</div>
<div class="t yl" style="top:375px">86</div>
<div class="t yl" style="top:350px">87</div>
<div class="t yl" style="top:325px">88</div>
<div class="t yl" style="top:301px">89</div>
<div class="t yl" style="top:276px">90</div>
<div class="t yl" style="top:251px">91</div>
<div class="t yl" style="top:226px">92</div>
<div class="t yl" style="top:201px">93</div>
<div class="t yl" style="top:176px">94</div>
<div class="t yl" style="top:151px">95</div>
<div class="t yl" style="top:127px">96</div>
<div class="t yl" style="top:102px">97</div>
<div class="t yl" style="top:77px">98</div>
<div class="t yl" style="top:52px">99</div>
<div class="t yl" style="top:727px">0.0</div>
<div class="t yl" style="top:700px">20.0</div>
<div class="t yl" style="top:673px">40.0</div>
<div class="t yl" style="top:645px">60.0</div>
<div class="t yl" style="top:618px">80.0</div>
<div class="t yl" style="top:591px">100.0</div>
<div class="t xl" style="left:13px;font-weight:bold;">Jan 67</div>
<div class="t xl" style="left:77px;">Feb</div>
<div class="t xl" style="left:135px;">Mar</div>
<div class="t xl" style="left:203px;">Apr</div>
<div class="t xl" style="left:264px;">May</div>
<div class="t xl" style="left:332px;">Jun</div>
<div class="t xl" style="left:399px;">Jul</div>
<div class="t xl" style="left:460px;">Aug</div>
<div class="t xl" style="left:531px;">Sep</div>
<div class="t xl" style="left:592px;">Oct</div>
<div class="t xl" style="left:660px;">Nov</div>
<div class="t xl" style="left:721px;">Dec</div>
</body></html>
